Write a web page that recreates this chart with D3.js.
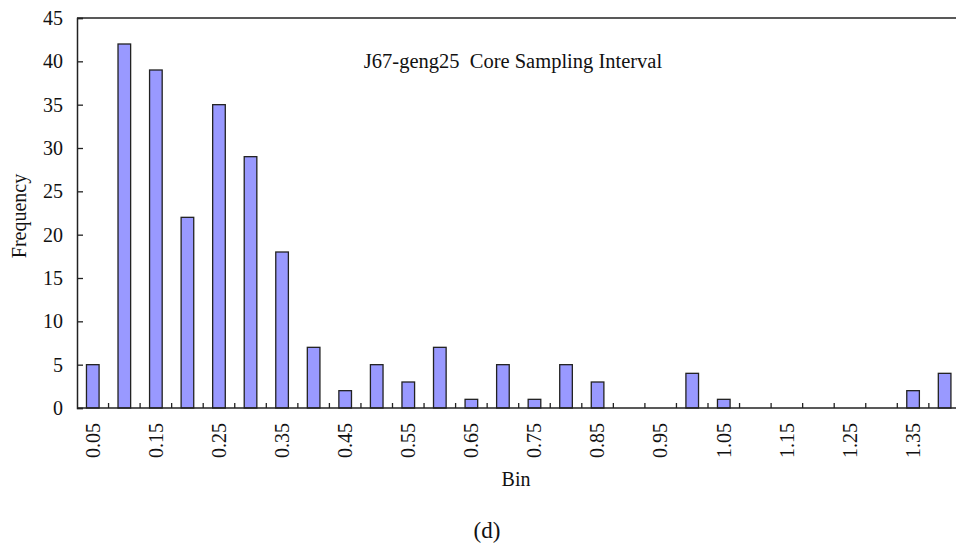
<!DOCTYPE html>
<html>
<head>
<meta charset="utf-8">
<script src="https://cdn.jsdelivr.net/npm/d3@7"></script>
<style>
  html, body { margin: 0; padding: 0; background: #fff; }
  svg text { font-family: "Liberation Serif", "DejaVu Serif", serif; fill: #111; }
</style>
</head>
<body>
<svg id="chart" width="956" height="548"></svg>
<script>
const bins = ["0.05","0.1","0.15","0.2","0.25","0.3","0.35","0.4","0.45","0.5","0.55","0.6","0.65","0.7","0.75","0.8","0.85","0.9","0.95","1","1.05","1.1","1.15","1.2","1.25","1.3","1.35","1.4"];
const frequency = [5,42,39,22,35,29,18,7,2,5,3,7,1,5,1,5,3,0,0,4,1,0,0,0,0,0,2,4];
const xTickLabels = ["0.05","0.15","0.25","0.35","0.45","0.55","0.65","0.75","0.85","0.95","1.05","1.15","1.25","1.35"];
const yTicks = [0,5,10,15,20,25,30,35,40,45];
const titleText = "J67-geng25  Core Sampling Interval";
const xLabel = "Bin";
const yLabel = "Frequency";
const caption = "(d)";

const svg = d3.select("#chart");
const mLeft = 77, mTop = 18, mBottom = 408, mRight = 960.4;

const x = d3.scaleBand().domain(bins).range([mLeft, mRight]).paddingInner(0.6).paddingOuter(0.3);
const y = d3.scaleLinear().domain([0, 45]).range([mBottom, mTop]);

// bars
svg.append("g").selectAll("rect").data(bins).join("rect")
  .attr("x", d => x(d))
  .attr("width", x.bandwidth())
  .attr("y", (d, i) => y(frequency[i]))
  .attr("height", (d, i) => y(0) - y(frequency[i]))
  .attr("fill", "#9999ff")
  .attr("stroke", "#222")
  .attr("stroke-width", 1.3);

// top border
svg.append("line").attr("x1", mLeft).attr("x2", 956).attr("y1", mTop).attr("y2", mTop)
  .attr("stroke", "#222").attr("stroke-width", 1.5);

// y axis
const yAxis = d3.axisLeft(y).tickValues(yTicks).tickSize(-6).tickPadding(14).tickFormat(d3.format("d"));
const yg = svg.append("g").attr("transform", `translate(${mLeft},0)`).call(yAxis);
yg.select(".domain").attr("stroke", "#222").attr("stroke-width", 1.5);
yg.selectAll(".tick line").attr("stroke", "#222").attr("stroke-width", 1.3);
yg.selectAll(".tick text").attr("font-size", 20).attr("font-family", "Liberation Serif").attr("fill", "#111");

// x axis baseline and boundary ticks
svg.append("line").attr("x1", mLeft).attr("x2", 956).attr("y1", mBottom).attr("y2", mBottom)
  .attr("stroke", "#222").attr("stroke-width", 1.5);
const step = x.step();
const boundaries = bins.slice(1).map(d => x(d) - (step - x.bandwidth()) / 2);
svg.append("g").selectAll("line").data(boundaries).join("line")
  .attr("x1", d => d).attr("x2", d => d)
  .attr("y1", mBottom).attr("y2", mBottom - 5)
  .attr("stroke", "#222").attr("stroke-width", 1.3);

// x tick labels (rotated)
svg.append("g").selectAll("text").data(xTickLabels).join("text")
  .attr("transform", d => `translate(${x(d) + x.bandwidth() / 2},423) rotate(-90)`)
  .attr("text-anchor", "end")
  .attr("dy", "0.34em")
  .attr("font-size", 20)
  .text(d => d);

// title
svg.append("text").attr("x", 513).attr("y", 68).attr("text-anchor", "middle")
  .attr("font-size", 20.5).style("white-space", "pre").text(titleText);

// axis labels
svg.append("text").attr("x", 516).attr("y", 486).attr("text-anchor", "middle")
  .attr("font-size", 20).text(xLabel);
svg.append("text").attr("transform", "translate(26,216) rotate(-90)").attr("text-anchor", "middle")
  .attr("font-size", 20).text(yLabel);

// caption
svg.append("text").attr("x", 487).attr("y", 538).attr("text-anchor", "middle")
  .attr("font-size", 23).text(caption);
</script>
</body>
</html>
